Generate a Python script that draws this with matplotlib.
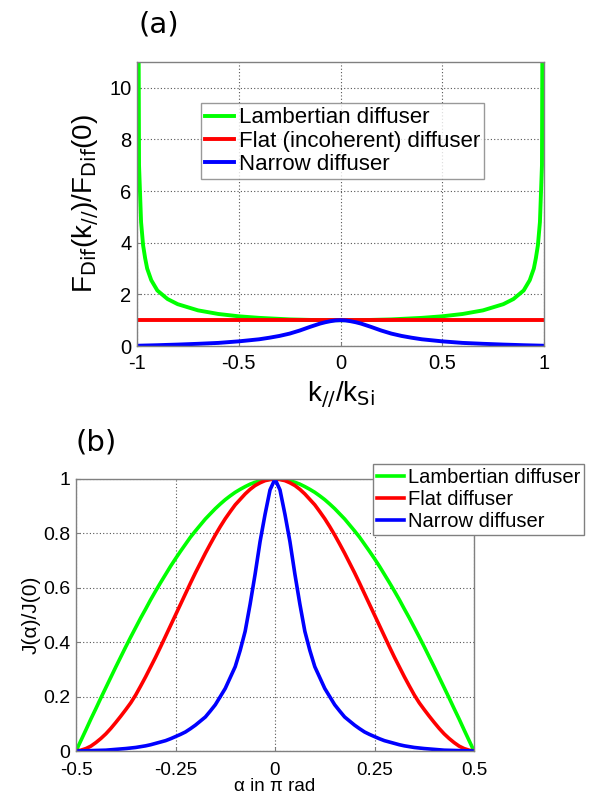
import numpy as np
import matplotlib
matplotlib.use("Agg")
import matplotlib.pyplot as plt

plt.rcParams["font.family"] = ["Liberation Sans", "DejaVu Sans"]
plt.rcParams["axes.unicode_minus"] = False

# ---- panel (a): angular spectrum vs k_// / k_Si (right half, mirrored) ----
k_half = [0.0, 0.025, 0.05, 0.075, 0.1, 0.15, 0.2, 0.25, 0.3, 0.35, 0.4, 0.45, 0.5, 0.6,
          0.7, 0.8, 0.85, 0.9, 0.93, 0.95, 0.96, 0.97, 0.98, 0.99, 1.0]
lamb_a_half = [1.0, 1.0, 1.0, 1.0, 1.0, 1.01, 1.02, 1.03, 1.05, 1.07, 1.09, 1.12, 1.15, 1.24,
               1.38, 1.62, 1.82, 2.15, 2.55, 3.0, 3.4, 3.9, 4.8, 7.0, 30.0]
flat_a_half = [1.0] * 25
narrow_a_half = [1.0, 0.99, 0.96, 0.92, 0.87, 0.74, 0.6, 0.48, 0.39, 0.32, 0.26, 0.22, 0.18,
                 0.12, 0.085, 0.055, 0.043, 0.03, 0.024, 0.02, 0.018, 0.016, 0.014, 0.012, 0.01]

# ---- panel (b): J(alpha)/J(0), alpha in units of pi (right half, mirrored) ----
alpha_half = [0.0, 0.0125, 0.025, 0.0375, 0.05, 0.0625, 0.075, 0.0875, 0.1, 0.1125,
              0.125, 0.1375, 0.15, 0.1625, 0.175, 0.1875, 0.2, 0.2125, 0.225, 0.2375,
              0.25, 0.2625, 0.275, 0.2875, 0.3, 0.3125, 0.325, 0.3375, 0.35, 0.3625,
              0.375, 0.3875, 0.4, 0.4125, 0.425, 0.4375, 0.45, 0.4625, 0.475, 0.4875, 0.5]
lamb_b_half = [1.0, 0.999, 0.997, 0.993, 0.988, 0.981, 0.972, 0.962, 0.951, 0.938,
               0.924, 0.908, 0.891, 0.872, 0.853, 0.831, 0.809, 0.786, 0.760, 0.734,
               0.707, 0.679, 0.649, 0.619, 0.588, 0.556, 0.522, 0.489, 0.454, 0.419,
               0.383, 0.346, 0.309, 0.271, 0.233, 0.195, 0.156, 0.118, 0.078, 0.039, 0.0]
flat_b_half = [1.0, 0.998, 0.994, 0.986, 0.976, 0.962, 0.945, 0.925, 0.905, 0.880,
               0.854, 0.825, 0.794, 0.761, 0.727, 0.691, 0.655, 0.617, 0.578, 0.539,
               0.500, 0.461, 0.422, 0.383, 0.345, 0.309, 0.273, 0.239, 0.206, 0.177,
               0.152, 0.128, 0.105, 0.083, 0.063, 0.046, 0.031, 0.018, 0.009, 0.003, 0.0]
narrow_b_half = [1.0, 0.96, 0.87, 0.77, 0.65, 0.54, 0.44, 0.37, 0.31, 0.27,
                 0.23, 0.2, 0.17, 0.147, 0.125, 0.11, 0.095, 0.082, 0.07, 0.061,
                 0.053, 0.045, 0.038, 0.033, 0.028, 0.023, 0.019, 0.016, 0.013, 0.011,
                 0.009, 0.0075, 0.006, 0.0045, 0.003, 0.0025, 0.002, 0.0015, 0.001, 0.0005, 0.0]

labels_a = ["Lambertian diffuser", "Flat (incoherent) diffuser", "Narrow diffuser"]
labels_b = ["Lambertian diffuser", "Flat diffuser", "Narrow diffuser"]
colors = ["#00ff00", "#ff0000", "#0000ff"]


def mirror(x, y):
    x = np.asarray(x); y = np.asarray(y)
    return np.concatenate([-x[:0:-1], x]), np.concatenate([y[:0:-1], y])


def style(ax, fs):
    ax.grid(True, color="#555555", linestyle=(0, (1, 2)), linewidth=0.8)
    ax.set_axisbelow(True)
    for s in ax.spines.values():
        s.set_color("#808080")
        s.set_linewidth(1.0)
    ax.tick_params(direction="in", length=3, color="#808080", labelsize=fs, pad=4)


W, H = 605, 797
fig = plt.figure(figsize=(W / 100, H / 100), dpi=100)

# panel (a)
ax1 = fig.add_axes([137 / W, 1 - 346 / H, 407 / W, 284 / H])
for ys, lab, c in zip([lamb_a_half, flat_a_half, narrow_a_half], labels_a, colors):
    x, y = mirror(k_half, ys)
    ax1.plot(x, y, color=c, lw=2.8, label=lab)
ax1.set_xlim(-1, 1)
ax1.set_ylim(0, 11)
ax1.set_xticks([-1, -0.5, 0, 0.5, 1])
ax1.set_xticklabels(["-1", "-0.5", "0", "0.5", "1"])
ax1.set_yticks([0, 2, 4, 6, 8, 10])
style(ax1, 14.5)
ax1.tick_params(axis="x", pad=6)
ax1.set_xlabel(r"k$_{//}$/k$_{\mathrm{Si}}$", fontsize=20, labelpad=4)
ax1.set_ylabel(r"F$_{\mathrm{Dif}}$(k$_{//}$)/F$_{\mathrm{Dif}}$(0)", fontsize=20, labelpad=6)
leg1 = ax1.legend(loc="upper left", bbox_to_anchor=(0.157, 0.856), borderaxespad=0,
                  fontsize=16, frameon=True, fancybox=False, edgecolor="#808080",
                  handlelength=1.3, handletextpad=0.2, labelspacing=0.1, borderpad=0.2)
leg1.get_frame().set_linewidth(1.0)

# panel (b)
ax2 = fig.add_axes([76 / W, 1 - 751 / H, 398 / W, 272 / H])
for ys, lab, c in zip([lamb_b_half, flat_b_half, narrow_b_half], labels_b, colors):
    x, y = mirror(alpha_half, ys)
    ax2.plot(x, y, color=c, lw=2.6, label=lab)
ax2.set_xlim(-0.5, 0.5)
ax2.set_ylim(0, 1)
ax2.set_xticks([-0.5, -0.25, 0, 0.25, 0.5])
ax2.set_xticklabels(["-0.5", "-0.25", "0", "0.25", "0.5"])
ax2.set_yticks([0, 0.2, 0.4, 0.6, 0.8, 1])
ax2.set_yticklabels(["0", "0.2", "0.4", "0.6", "0.8", "1"])
style(ax2, 14)
ax2.tick_params(axis="x", pad=8, labelsize=13.5)
ax2.set_xlabel("α in π rad", fontsize=13.5, labelpad=-1)
ax2.set_ylabel("J(α)/J(0)", fontsize=15, labelpad=2)
leg2 = ax2.legend(loc="upper left", bbox_to_anchor=(0.747, 1.055), borderaxespad=0,
                  fontsize=14.5, frameon=True, fancybox=False, edgecolor="#808080",
                  framealpha=1, handlelength=1.3, handletextpad=0.2, labelspacing=0.15,
                  borderpad=0.2)
leg2.get_frame().set_linewidth(1.0)

fig.text(159 / W, 1 - 24 / H, "(a)", fontsize=21, family="DejaVu Sans", ha="center", va="center")
fig.text(96 / W, 1 - 443 / H, "(b)", fontsize=21, family="DejaVu Sans", ha="center", va="center")

fig.savefig("out.png", dpi=100)
